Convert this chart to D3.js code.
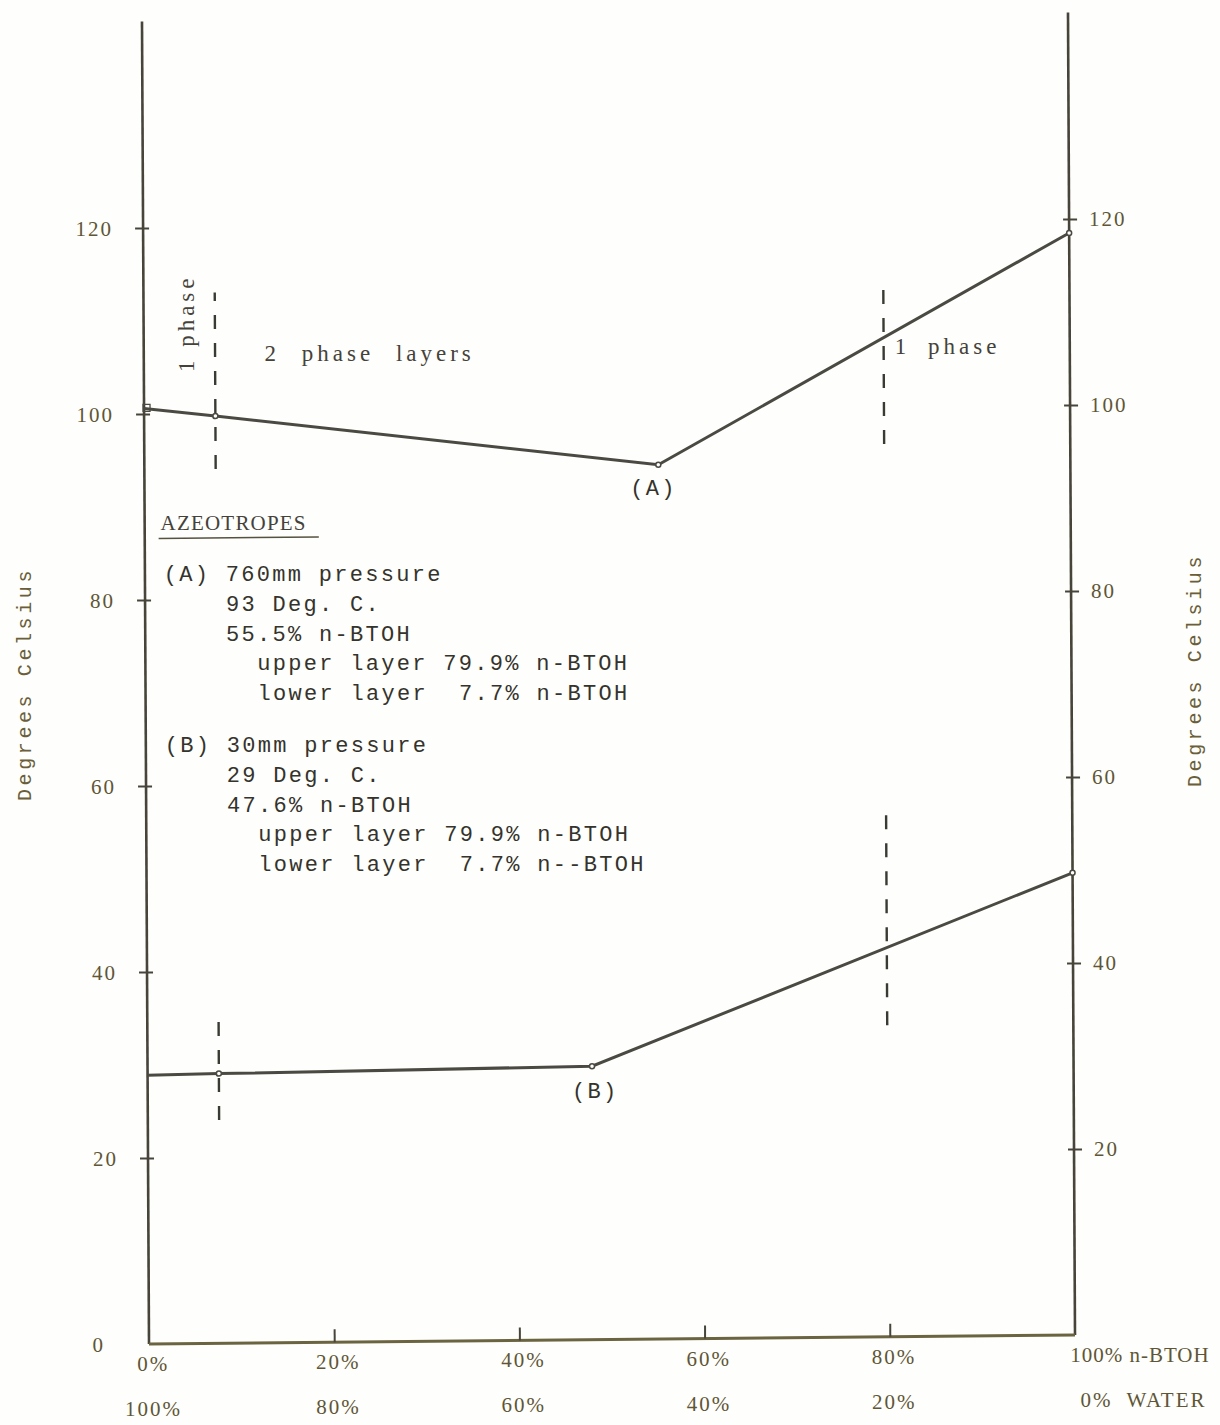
<!DOCTYPE html>
<html>
<head>
<meta charset="utf-8">
<script src="https://cdn.jsdelivr.net/npm/d3@7"></script>
<style>
  body { margin: 0; background: #fefefc; }
  svg { display: block; }
  .tick-label { font-family: "Liberation Serif", serif; font-size: 21px; fill: #5e5636; letter-spacing: 2px; }
  .mono { font-family: "Liberation Mono", monospace; font-size: 22px; fill: #34332c; letter-spacing: 2.3px; }
  .serif { font-family: "Liberation Serif", serif; font-size: 23px; fill: #45423a; letter-spacing: 4px; }
  .axis-title { font-family: "Liberation Mono", monospace; font-size: 20px; fill: #6a5f3a; letter-spacing: 3.6px; }
</style>
</head>
<body>
<svg width="1220" height="1425"></svg>
<script>
// composition axis (% n-BTOH) and temperature ticks
const xTicks = [0, 20, 40, 60, 80, 100];
const btohLabels = ['0%', '20%', '40%', '60%', '80%', '100% n-BTOH'];
const waterLabels = ['100%', '80%', '60%', '40%', '20%', '0%\u00a0 WATER'];
const leftTicks = [0, 20, 40, 60, 80, 100, 120];
const rightTicks = [20, 40, 60, 80, 100, 120];

// boiling curves: [% n-BTOH, deg C]
const curve760 = [[0, 100.6], [7.7, 99.7], [55.5, 94], [100, 118.5]];
const curve30 = [[0, 28.9], [7.7, 29.0], [48, 29.4], [100, 49.7]];

// dashed phase boundaries: [% n-BTOH, from deg C, to deg C]
const phaseBounds = [[7.7, 94, 113], [79.9, 96, 113], [7.7, 24, 35.6], [79.9, 33.5, 57]];

// azeotrope notes: [text, indent in characters, block]
const noteLines = [
  ['(A) 760mm pressure', 0, 0],
  ['93 Deg. C.', 4, 0],
  ['55.5% n-BTOH', 4, 0],
  ['upper layer 79.9% n-BTOH', 6, 0],
  ['lower layer\u00a0 7.7% n-BTOH', 6, 0],
  ['(B) 30mm pressure', 0, 1],
  ['29 Deg. C.', 4, 1],
  ['47.6% n-BTOH', 4, 1],
  ['upper layer 79.9% n-BTOH', 6, 1],
  ['lower layer\u00a0 7.7% n--BTOH', 6, 1]
];

const svg = d3.select('svg');
const innerWidth = 926;
const yTop = 142.2;

const xScale = d3.scaleLinear().domain([0, 100]).range([0, innerWidth]);
const yScale = d3.scaleLinear().domain([0, 120]).range([0, -1116]);

// the scanned sheet is slightly skewed
const skew = [1, -0.00972, 0.0053, 1, 149, 1344];
const toScreen = (x, y) => [skew[0] * x + skew[2] * y + skew[4], skew[1] * x + skew[3] * y + skew[5]];

const g = svg.append('g').attr('transform', `matrix(${skew.join(',')})`);
const labels = svg.append('g');

const ink = '#47453a';

// left axis
g.append('line')
  .attr('x1', 0).attr('x2', 0)
  .attr('y1', 0).attr('y2', yScale(yTop))
  .attr('stroke', ink).attr('stroke-width', 2.6);

const leftG = g.append('g').call(d3.axisLeft(yScale).tickValues(leftTicks).tickFormat(''));
leftG.select('.domain').remove();
leftG.selectAll('line')
  .attr('x1', 6).attr('x2', -8)
  .attr('stroke', ink).attr('stroke-width', 2)
  .filter(d => d === 0).remove();

labels.selectAll('.ltick').data(leftTicks)
  .enter().append('text')
    .attr('class', 'tick-label ltick')
    .attr('text-anchor', 'end')
    .attr('dy', '0.35em')
    .attr('x', d => toScreen(d === 0 ? -44 : -30, yScale(d))[0])
    .attr('y', d => toScreen(d === 0 ? -44 : -30, yScale(d))[1])
    .text(d => d);

// right axis
const rightG = g.append('g').attr('transform', `translate(${innerWidth},0)`);
rightG.append('line')
  .attr('y1', 0).attr('y2', yScale(yTop))
  .attr('stroke', ink).attr('stroke-width', 2.6);
const rightAxisG = rightG.append('g').call(d3.axisRight(yScale).tickValues(rightTicks).tickFormat(''));
rightAxisG.select('.domain').remove();
rightAxisG.selectAll('line')
  .attr('x1', -6).attr('x2', 8)
  .attr('stroke', ink).attr('stroke-width', 2);

labels.selectAll('.rtick').data(rightTicks)
  .enter().append('text')
    .attr('class', 'tick-label rtick')
    .attr('dy', '0.35em')
    .attr('x', d => toScreen(innerWidth + 20, yScale(d))[0])
    .attr('y', d => toScreen(innerWidth + 20, yScale(d))[1])
    .text(d => d);

// bottom axis, ticks pointing up
const bottomG = g.append('g')
  .call(d3.axisBottom(xScale).tickValues(xTicks).tickSize(-13).tickFormat(''));
bottomG.select('.domain')
  .attr('d', `M0,0H${innerWidth}`)
  .attr('stroke', '#6b6440').attr('stroke-width', 3);
bottomG.selectAll('line').attr('stroke', ink).attr('stroke-width', 2)
  .filter(d => d === 0 || d === 100).remove();

labels.selectAll('.btoh').data(xTicks)
  .enter().append('text')
    .attr('class', 'tick-label btoh')
    .attr('x', (d, i) => toScreen(xScale(d) + (i === 5 ? -5 : 4), 27)[0])
    .attr('y', (d, i) => toScreen(xScale(d) + (i === 5 ? -5 : 4), 27)[1])
    .attr('text-anchor', (d, i) => i === 5 ? 'start' : 'middle')
    .style('letter-spacing', (d, i) => i === 5 ? '1px' : null)
    .text((d, i) => btohLabels[i]);

labels.selectAll('.water').data(xTicks)
  .enter().append('text')
    .attr('class', 'tick-label water')
    .attr('x', (d, i) => toScreen(xScale(d) + (i === 5 ? 5 : 4), 72)[0])
    .attr('y', (d, i) => toScreen(xScale(d) + (i === 5 ? 5 : 4), 72)[1])
    .attr('text-anchor', (d, i) => i === 5 ? 'start' : 'middle')
    .text((d, i) => waterLabels[i]);

// phase boundaries
g.selectAll('.phase').data(phaseBounds)
  .enter().append('line')
    .attr('class', 'phase')
    .attr('x1', d => xScale(d[0])).attr('x2', d => xScale(d[0]))
    .attr('y1', d => yScale(d[1])).attr('y2', d => yScale(d[2]))
    .attr('stroke', '#3a3a34').attr('stroke-width', 2.4)
    .attr('stroke-dasharray', '14,14');

// curves
const line = d3.line().x(d => xScale(d[0])).y(d => yScale(d[1]));
[curve760, curve30].forEach(c => {
  g.append('path')
    .attr('d', line(c))
    .attr('fill', 'none')
    .attr('stroke', '#4b4a42').attr('stroke-width', 3);
  g.selectAll(null).data(c.slice(1)).enter().append('circle')
    .attr('cx', d => xScale(d[0])).attr('cy', d => yScale(d[1]))
    .attr('r', 2.5).attr('fill', '#fefefc').attr('stroke', '#4b4a42').attr('stroke-width', 1.5);
});
g.append('rect')
  .attr('x', xScale(curve760[0][0]) - 1).attr('y', yScale(curve760[0][1]) - 4)
  .attr('width', 7).attr('height', 7)
  .attr('fill', 'none').attr('stroke', '#4b4a42').attr('stroke-width', 1.3);

// helper for free labels placed in chart units
const place = (sel, xv, tv, dx = 0, dy = 0) => {
  const p = toScreen(xScale(xv) + dx, yScale(tv) + dy);
  return sel.attr('x', p[0]).attr('y', p[1]);
};

// point labels
place(labels.append('text').attr('class', 'mono'), curve760[2][0], curve760[2][1], -5, 30)
  .attr('text-anchor', 'middle').text('(A)');
place(labels.append('text').attr('class', 'mono'), curve30[2][0], curve30[2][1], 3, 32)
  .attr('text-anchor', 'middle').text('(B)');

// region labels
const rp = toScreen(xScale(7.7) - 21, yScale(109.7));
labels.append('text').attr('class', 'serif')
  .attr('transform', `translate(${rp[0]},${rp[1]}) rotate(-90)`)
  .attr('text-anchor', 'middle').text('1 phase');
place(labels.append('text').attr('class', 'serif'), 12.5, 105.6, 5)
  .style('word-spacing', '12px')
  .text('2 phase layers');
place(labels.append('text').attr('class', 'serif'), 81.1, 105.7)
  .style('word-spacing', '8px')
  .text('1 phase');

// azeotrope notes
place(labels.append('text').attr('class', 'serif'), 1.5, 87.5, 2)
  .style('letter-spacing', '1.2px').style('font-size', '21px')
  .text('AZEOTROPES');
g.append('line')
  .attr('x1', xScale(1.5)).attr('x2', xScale(18.8))
  .attr('y1', yScale(86.6)).attr('y2', yScale(86.6))
  .attr('stroke', '#55523f').attr('stroke-width', 1.5);

const charW = 15.5;
labels.selectAll('.note').data(noteLines)
  .enter().append('text')
    .attr('class', 'mono note')
    .each(function(d, i) {
      place(d3.select(this), 1.6, 82.0, 4 + d[1] * charW, i * 30 + d[2] * 21);
    })
    .text(d => d[0]);

// axis titles
labels.append('text').attr('class', 'axis-title')
  .attr('transform', 'translate(31,684) rotate(-90)')
  .attr('text-anchor', 'middle').text('Degrees Celsius');
labels.append('text').attr('class', 'axis-title')
  .attr('transform', 'translate(1201,670) rotate(-90)')
  .attr('text-anchor', 'middle').text('Degrees Celsius');
</script>
</body>
</html>
